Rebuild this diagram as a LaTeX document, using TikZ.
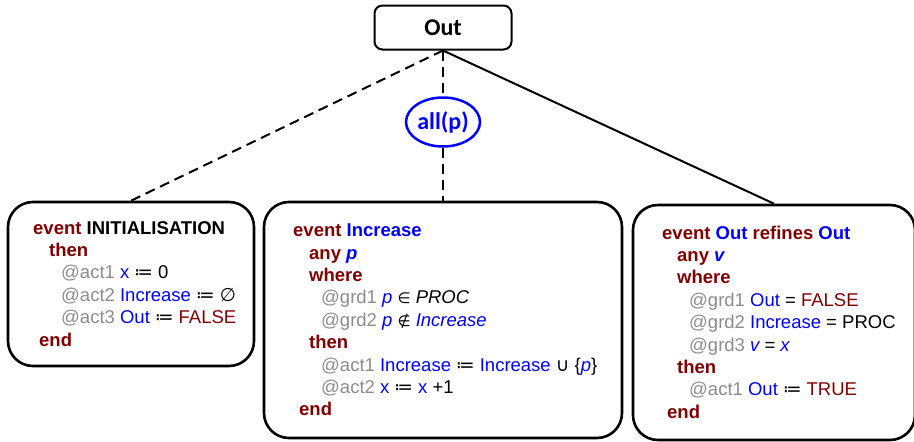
\documentclass[tikz,border=0pt]{standalone}
\usepackage{fontspec}
\setmainfont{Liberation Sans}
\newfontfamily\carlito{Carlito}
\newfontfamily\djv{DejaVu Sans}
\usetikzlibrary{shapes.geometric}

\definecolor{kwred}{RGB}{128,0,0}
\definecolor{idblue}{RGB}{0,0,255}
\definecolor{lbgray}{RGB}{140,140,140}

% Event-B pretty printing helpers
\newcommand{\kw}[1]{\textbf{\textcolor{kwred}{#1}}}
\newcommand{\lb}[1]{\textcolor{lbgray}{#1}}
\newcommand{\bl}[1]{\textcolor{idblue}{#1}}
\newcommand{\asg}{{\djv ≔}}

\tikzset{
  machbox/.style={draw, line width=2pt, rounded corners=8pt, inner sep=0pt,
    minimum width=137pt, minimum height=44pt,
    font=\carlito\bfseries\fontsize{24}{28}\selectfont},
  quant/.style={ellipse, draw=idblue, text=idblue, line width=2.5pt, inner sep=0pt,
    minimum width=74pt, minimum height=49pt,
    font=\carlito\bfseries\fontsize{24}{28}\selectfont},
  evbox/.style={draw, line width=2.6pt, rounded corners=25pt, inner sep=0pt},
  evtext/.style={anchor=base west, inner sep=0pt,
    font=\fontsize{18.5}{22.4}\selectfont},
  dashlink/.style={line width=2pt, dash pattern=on 10pt off 6pt},
  solidlink/.style={line width=2pt},
}

\begin{document}
\begin{tikzpicture}[x=1pt,y=-1pt]
\clip (0,0) rectangle (914,442);
\useasboundingbox (0,0) rectangle (914,442);

% refinement tree
\node[machbox] (out) at (443,27.5) {Out};
\node[quant] (allp) at (443,122) {all(p)};

\node[evbox, minimum width=246pt, minimum height=164pt] (init) at (131,284) {};
\node[evbox, minimum width=358pt, minimum height=236pt] (inc) at (443,320) {};
\node[evbox, minimum width=282pt, minimum height=235pt] (outev) at (774,322.5) {};

\draw[dashlink] (out.south) -- (init.north);
\draw[dashlink] (out.south) -- (allp.north);
\draw[dashlink] (allp.south) -- (inc.north);
\draw[solidlink] (out.south) -- (outev.north);

% event bodies
\node[evtext] (initTxt) at (33,234) {\begin{tabular}[t]{@{}l@{}}
\kw{event} \textbf{INITIALISATION}\\
\hspace*{16pt}\kw{then}\\
\hspace*{28pt}\lb{@act1} \bl{x} \asg{} 0\\
\hspace*{28pt}\lb{@act2} \bl{Increase} \asg{} {\djv ∅}\\
\hspace*{28pt}\lb{@act3} \bl{Out} \asg{} \textcolor{kwred}{FALSE}\\
\hspace*{6pt}\kw{end}
\end{tabular}};

\node[evtext] (incTxt) at (293,236.7) {\begin{tabular}[t]{@{}l@{}}
\kw{event} \textbf{\bl{Increase}}\\
\hspace*{16pt}\kw{any} \bl{\bfseries\itshape p}\\
\hspace*{16pt}\kw{where}\\
\hspace*{28pt}\lb{@grd1} \bl{\itshape p} {\djv\fontsize{15}{18}\selectfont ∈} \textit{PROC}\\
\hspace*{28pt}\lb{@grd2} \bl{\itshape p} {\djv\fontsize{15}{18}\selectfont ∉} \bl{\itshape Increase}\\
\hspace*{16pt}\kw{then}\\
\hspace*{28pt}\lb{@act1} \bl{Increase} \asg{} \bl{Increase} {\djv ∪} \{\bl{\itshape p}\}\\
\hspace*{28pt}\lb{@act2} \bl{x} \asg{} \bl{x} +1\\
\hspace*{6pt}\kw{end}
\end{tabular}};

\node[evtext] (outTxt) at (662,239) {\begin{tabular}[t]{@{}l@{}}
\kw{event} \textbf{\bl{Out}} \kw{refines} \textbf{\bl{Out}}\\
\hspace*{15pt}\kw{any} \bl{\bfseries\itshape v}\\
\hspace*{15pt}\kw{where}\\
\hspace*{27pt}\lb{@grd1} \bl{Out} = \textcolor{kwred}{FALSE}\\
\hspace*{27pt}\lb{@grd2} \bl{Increase} = PROC\\
\hspace*{27pt}\lb{@grd3} \bl{\itshape v} = \bl{\itshape x}\\
\hspace*{15pt}\kw{then}\\
\hspace*{27pt}\lb{@act1} \bl{Out} \asg{} \textcolor{kwred}{TRUE}\\
\hspace*{5pt}\kw{end}
\end{tabular}};
\end{tikzpicture}
\end{document}
